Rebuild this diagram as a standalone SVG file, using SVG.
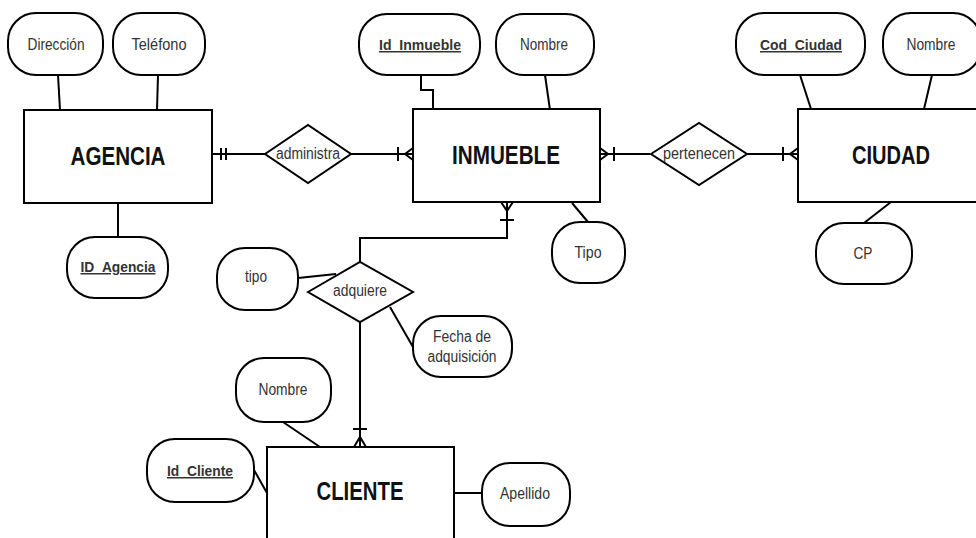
<svg xmlns="http://www.w3.org/2000/svg" width="976" height="538" viewBox="0 0 976 538">
<style>
  .ent{fill:#fff;stroke:#000;stroke-width:2}
  .attr{fill:#fff;stroke:#000;stroke-width:2}
  .rel{fill:#fff;stroke:#000;stroke-width:2}
  .ln{fill:none;stroke:#000;stroke-width:2}
  .t{font-family:"Liberation Sans",Arial,sans-serif;font-size:16px;fill:#333;text-anchor:middle}
  .k{font-family:"Liberation Sans",Arial,sans-serif;font-size:15px;font-weight:bold;fill:#333;text-anchor:middle;text-decoration:underline}
  .e{font-family:"Liberation Sans",Arial,sans-serif;font-size:25px;font-weight:bold;fill:#111;text-anchor:middle}
</style>
<rect width="976" height="538" fill="#fff"/>
<g id="connectors">
  <line class="ln" x1="58" y1="75" x2="60" y2="110"/>
  <line class="ln" x1="158" y1="75" x2="157" y2="110"/>
  <line class="ln" x1="118" y1="203" x2="118" y2="237"/>
  <polyline class="ln" points="421,75 421,90 433,90 433,109"/>
  <line class="ln" x1="545" y1="75" x2="550" y2="110"/>
  <line class="ln" x1="572" y1="203" x2="588" y2="222"/>
  <line class="ln" x1="800" y1="75" x2="811" y2="109"/>
  <line class="ln" x1="932" y1="75" x2="924" y2="109"/>
  <line class="ln" x1="891" y1="202" x2="864" y2="223"/>
  <line class="ln" x1="298" y1="278" x2="336" y2="274"/>
  <line class="ln" x1="390" y1="307" x2="413" y2="347"/>
  <line class="ln" x1="283" y1="422" x2="320" y2="447"/>
  <line class="ln" x1="254" y1="470" x2="267" y2="493"/>
  <line class="ln" x1="454" y1="493" x2="483" y2="493"/>
  <line class="ln" x1="212" y1="154" x2="265" y2="154"/>
  <line class="ln" x1="221" y1="148" x2="221" y2="160"/>
  <line class="ln" x1="226" y1="148" x2="226" y2="160"/>
  <line class="ln" x1="351" y1="154" x2="413" y2="154"/>
  <line class="ln" x1="398" y1="147" x2="398" y2="161"/>
  <polyline class="ln" points="413,148 405,154 413,160"/>
  <line class="ln" x1="600" y1="154" x2="650" y2="154"/>
  <polyline class="ln" points="600,148 608,154 600,160"/>
  <line class="ln" x1="614" y1="147" x2="614" y2="161"/>
  <line class="ln" x1="747" y1="154" x2="798" y2="154"/>
  <line class="ln" x1="783" y1="147" x2="783" y2="161"/>
  <polyline class="ln" points="798,148 790,154 798,160"/>
  <polyline class="ln" points="507,202 507,238 360,238 360,262"/>
  <polyline class="ln" points="501,202 507,211 513,202"/>
  <line class="ln" x1="500" y1="220" x2="514" y2="220"/>
  <line class="ln" x1="360" y1="322" x2="360" y2="447"/>
  <line class="ln" x1="353" y1="429" x2="367" y2="429"/>
  <polyline class="ln" points="354,447 360,437 366,447"/>
</g>
<g id="AGENCIA">
  <rect class="ent" x="24" y="110" width="188" height="93"/>
  <text class="e" x="118" y="165" textLength="95" lengthAdjust="spacingAndGlyphs">AGENCIA</text>
</g>
<g id="Direccion">
  <rect class="attr" x="8" y="13" width="95" height="62" rx="28"/>
  <text class="t" x="56" y="50" textLength="57" lengthAdjust="spacingAndGlyphs">Dirección</text>
</g>
<g id="Telefono">
  <rect class="attr" x="113" y="13" width="92" height="62" rx="28"/>
  <text class="t" x="159" y="50" textLength="55" lengthAdjust="spacingAndGlyphs">Teléfono</text>
</g>
<g id="ID_Agencia">
  <rect class="attr" x="67" y="237" width="101" height="61" rx="28"/>
  <text class="k" x="118" y="272" textLength="75" lengthAdjust="spacingAndGlyphs">ID_Agencia</text>
</g>
<g id="administra">
  <polygon class="rel" points="265,154 308,125 351,154 308,183"/>
  <text class="t" x="308" y="159" textLength="64" lengthAdjust="spacingAndGlyphs">administra</text>
</g>
<g id="INMUEBLE">
  <rect class="ent" x="413" y="109" width="187" height="93"/>
  <text class="e" x="506" y="164" textLength="108" lengthAdjust="spacingAndGlyphs">INMUEBLE</text>
</g>
<g id="Id_Inmueble">
  <rect class="attr" x="359" y="14" width="121" height="61" rx="28"/>
  <text class="k" x="420" y="50" textLength="82" lengthAdjust="spacingAndGlyphs">Id_Inmueble</text>
</g>
<g id="Nombre_Inmueble">
  <rect class="attr" x="496" y="14" width="98" height="61" rx="28"/>
  <text class="t" x="544" y="50" textLength="48" lengthAdjust="spacingAndGlyphs">Nombre</text>
</g>
<g id="Tipo">
  <rect class="attr" x="552" y="222" width="73" height="61" rx="28"/>
  <text class="t" x="588" y="258" textLength="27" lengthAdjust="spacingAndGlyphs">Tipo</text>
</g>
<g id="pertenecen">
  <polygon class="rel" points="651,154 699,123 747,154 699,185"/>
  <text class="t" x="699" y="159" textLength="72" lengthAdjust="spacingAndGlyphs">pertenecen</text>
</g>
<g id="CIUDAD">
  <rect class="ent" x="798" y="109" width="186" height="93"/>
  <text class="e" x="891" y="164" textLength="78" lengthAdjust="spacingAndGlyphs">CIUDAD</text>
</g>
<g id="Cod_Ciudad">
  <rect class="attr" x="736" y="13" width="129" height="62" rx="28"/>
  <text class="k" x="801" y="50" textLength="82" lengthAdjust="spacingAndGlyphs">Cod_Ciudad</text>
</g>
<g id="Nombre_Ciudad">
  <rect class="attr" x="883" y="13" width="98" height="62" rx="28"/>
  <text class="t" x="931" y="50" textLength="49" lengthAdjust="spacingAndGlyphs">Nombre</text>
</g>
<g id="CP">
  <rect class="attr" x="816" y="223" width="96" height="61" rx="28"/>
  <text class="t" x="863" y="259" textLength="19" lengthAdjust="spacingAndGlyphs">CP</text>
</g>
<g id="adquiere">
  <polygon class="rel" points="308,292 360,262 413,292 360,322"/>
  <text class="t" x="360" y="296" textLength="54" lengthAdjust="spacingAndGlyphs">adquiere</text>
</g>
<g id="tipo">
  <rect class="attr" x="217" y="248" width="81" height="62" rx="28"/>
  <text class="t" x="256" y="282" textLength="22" lengthAdjust="spacingAndGlyphs">tipo</text>
</g>
<g id="Fecha_adquisicion">
  <rect class="attr" x="413" y="316" width="99" height="61" rx="28"/>
  <text class="t" x="462" y="342" textLength="58" lengthAdjust="spacingAndGlyphs">Fecha de</text>
  <text class="t" x="462" y="362" textLength="69" lengthAdjust="spacingAndGlyphs">adquisición</text>
</g>
<g id="CLIENTE">
  <rect class="ent" x="267" y="447" width="187" height="100"/>
  <text class="e" x="360" y="500" textLength="87" lengthAdjust="spacingAndGlyphs">CLIENTE</text>
</g>
<g id="Nombre_Cliente">
  <rect class="attr" x="236" y="358" width="95" height="64" rx="28"/>
  <text class="t" x="283" y="395" textLength="49" lengthAdjust="spacingAndGlyphs">Nombre</text>
</g>
<g id="Id_Cliente">
  <rect class="attr" x="147" y="439" width="107" height="63" rx="28"/>
  <text class="k" x="200" y="476" textLength="66" lengthAdjust="spacingAndGlyphs">Id_Cliente</text>
</g>
<g id="Apellido">
  <rect class="attr" x="482" y="463" width="88" height="63" rx="28"/>
  <text class="t" x="525" y="499" textLength="50" lengthAdjust="spacingAndGlyphs">Apellido</text>
</g>
</svg>
